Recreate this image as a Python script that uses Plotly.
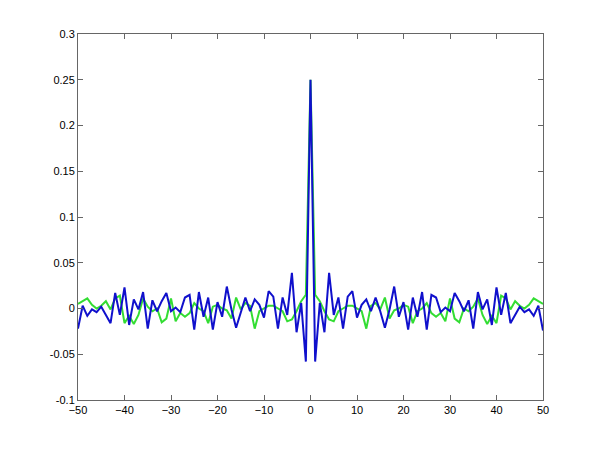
import plotly.graph_objects as go

lags = list(range(-50, 51))

green_vals = [
    0.005, 0.008, 0.011, 0.004, 0.000, 0.003, 0.008, -0.001, 0.011, 0.014,
    -0.016, -0.008, -0.017, -0.007, 0.011, 0.002, -0.003, 0.000, -0.015, -0.011,
    0.011, -0.014, -0.005, -0.009, -0.005, 0.006, 0.000, -0.003, -0.016, 0.002,
    0.004, 0.000, -0.002, -0.011, 0.012, -0.001, 0.006, 0.003, -0.022, -0.003,
    0.000, 0.003, 0.003, 0.000, -0.003, -0.014, -0.012, -0.003, 0.008, 0.015,
    0.250,
    0.015, 0.008, -0.003, -0.012, -0.014, -0.003, 0.000, 0.003, 0.003, 0.000,
    -0.003, -0.022, 0.003, 0.006, -0.001, 0.012, -0.011, -0.002, 0.000, 0.004,
    0.002, -0.016, -0.003, 0.000, 0.006, -0.005, -0.009, -0.005, -0.014, 0.011,
    -0.011, -0.015, 0.000, -0.003, 0.002, 0.011, -0.007, -0.017, -0.008, -0.016,
    0.014, 0.011, -0.001, 0.008, 0.003, 0.000, 0.004, 0.011, 0.008, 0.005,
]

blue_vals = [
    -0.022, 0.003, -0.008, -0.001, -0.004, 0.002, -0.007, -0.016, 0.017, -0.007,
    0.023, -0.018, 0.010, -0.001, 0.018, -0.022, 0.009, -0.003, 0.008, 0.017,
    -0.003, 0.001, -0.004, 0.012, 0.015, -0.023, 0.018, -0.009, 0.012, -0.023,
    0.007, -0.009, 0.024, -0.001, -0.021, -0.003, 0.012, -0.003, 0.010, 0.004,
    -0.010, 0.019, 0.013, -0.022, 0.012, -0.007, 0.039, -0.026, 0.006, -0.058,
    0.250,
    -0.058, 0.006, -0.026, 0.039, -0.007, 0.012, -0.022, 0.013, 0.019, -0.010,
    0.004, 0.010, -0.003, 0.012, -0.003, -0.021, -0.001, 0.024, -0.009, 0.007,
    -0.023, 0.012, -0.009, 0.018, -0.023, 0.015, 0.012, -0.004, 0.001, -0.003,
    0.017, 0.008, -0.003, 0.009, -0.022, 0.018, -0.001, 0.010, -0.018, 0.023,
    -0.007, 0.017, -0.016, -0.007, 0.002, -0.004, -0.001, -0.008, 0.003, -0.024,
]

x_ticks = [-50, -40, -30, -20, -10, 0, 10, 20, 30, 40, 50]
y_ticks = [-0.1, -0.05, 0, 0.05, 0.1, 0.15, 0.2, 0.25, 0.3]
y_labels = ['-0.1', '-0.05', '0', '0.05', '0.1', '0.15', '0.2', '0.25', '0.3']

fig = go.Figure()
fig.add_trace(go.Scatter(x=lags, y=green_vals, mode='lines',
                         line=dict(color='#33dd33', width=2)))
fig.add_trace(go.Scatter(x=lags, y=blue_vals, mode='lines',
                         line=dict(color='#1010cc', width=2)))

axis_style = dict(showgrid=False, zeroline=False, showline=True, mirror='ticks',
                  linecolor='#666666', linewidth=1, ticks='inside', ticklen=5,
                  tickcolor='#666666', tickfont=dict(color='black', size=11))

# page body adds ~8px offset, so margins are shifted to land the box at 78..543 / 34..400
fig.update_layout(
    width=600, height=450,
    margin=dict(l=70, r=65, t=26, b=58),
    paper_bgcolor='white', plot_bgcolor='white',
    font=dict(family='Liberation Sans, Arial, sans-serif', size=11, color='black'),
    showlegend=False,
)
fig.update_xaxes(range=[-50, 50], tickvals=x_ticks, **axis_style)
fig.update_yaxes(range=[-0.1, 0.3], tickvals=y_ticks, ticktext=y_labels, **axis_style)

fig.write_html("out.html")
